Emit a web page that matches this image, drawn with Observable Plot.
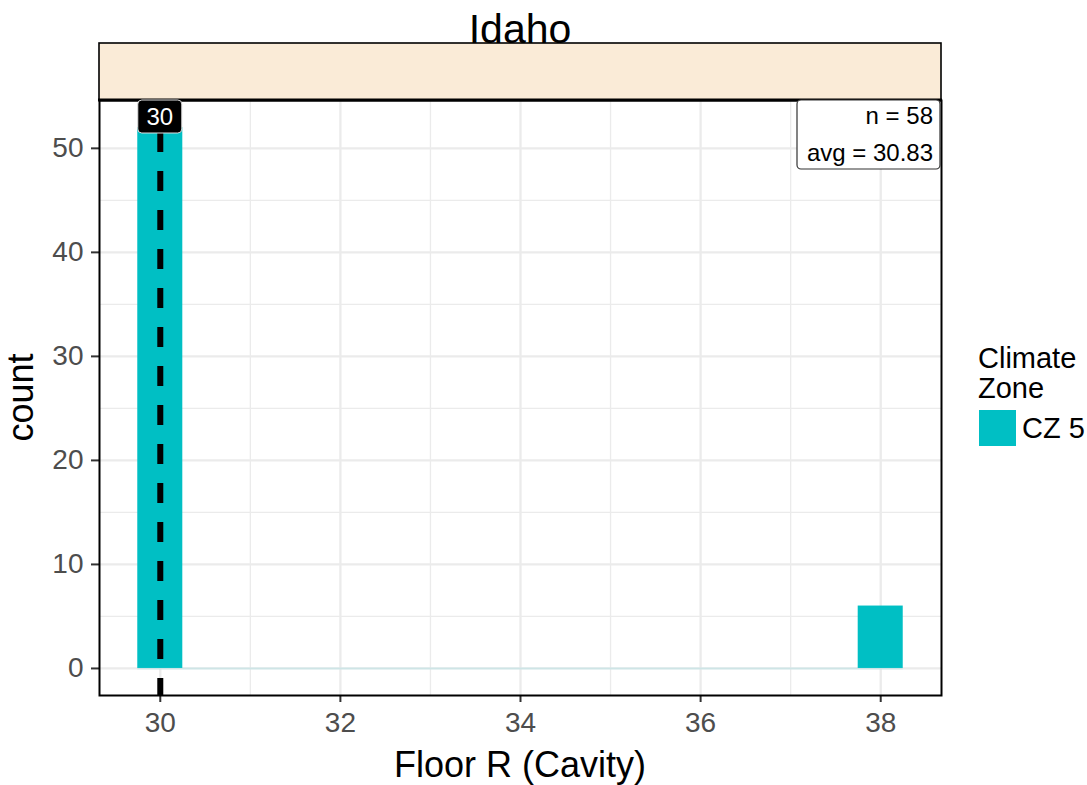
<!DOCTYPE html>
<html>
<head>
<meta charset="utf-8">
<script src="https://cdn.jsdelivr.net/npm/d3@7"></script>
<script src="https://cdn.jsdelivr.net/npm/@observablehq/plot@0.6"></script>
<style>
  html, body { margin: 0; padding: 0; background: white; }
  #chart { width: 1087px; height: 785px; }
</style>
</head>
<body>
<div id="chart"></div>
<script>
// ---- data ----
const stateName = "Idaho";
const binCenters = [30, 38];
const binCounts = [52, 6];
const binWidth = 0.5;
const xTicks = [30, 32, 34, 36, 38];
const xMinorTicks = [31, 33, 35, 37];
const yTicks = [0, 10, 20, 30, 40, 50];
const yMinorTicks = [5, 15, 25, 35, 45];
const zoneNames = ["CZ 5"];
const zoneColors = ["#00BFC4"];
const legendTitle = ["Climate", "Zone"];
const medianValue = [30];
const statLines = ["n = 58", "avg = 30.83"];
const xLabel = "Floor R (Cavity)";
const yLabel = "count";

const bars = binCenters.map((c, i) => ({ x1: c - binWidth / 2, x2: c + binWidth / 2, count: binCounts[i] }));
const binMin = d3.min(bars, d => d.x1), binMax = d3.max(bars, d => d.x2);
const xPad = (binMax - binMin) * 0.05;
const yPad = d3.max(binCounts) * 0.05;
const xDomain = [binMin - xPad, binMax + xPad];
const yDomain = [-yPad, d3.max(binCounts) + yPad];

const font = "'Liberation Sans', Arial, sans-serif";

const plot = Plot.plot({
  width: 1087, height: 785,
  marginLeft: 99, marginRight: 146, marginTop: 100, marginBottom: 90,
  style: { fontFamily: font, background: "white" },
  x: { domain: xDomain },
  y: { domain: yDomain },
  marks: [
    Plot.gridX(xMinorTicks, { stroke: "#EBEBEB", strokeOpacity: 1, strokeWidth: 1.3 }),
    Plot.gridY(yMinorTicks, { stroke: "#EBEBEB", strokeOpacity: 1, strokeWidth: 1.3 }),
    Plot.gridX(xTicks, { stroke: "#EBEBEB", strokeOpacity: 1, strokeWidth: 2.3 }),
    Plot.gridY(yTicks, { stroke: "#EBEBEB", strokeOpacity: 1, strokeWidth: 2.3 }),
    Plot.ruleY([0], { x1: binMin, x2: binMax, stroke: zoneColors[0], strokeOpacity: 0.12, strokeWidth: 2 }),
    Plot.rectY(bars, { x1: "x1", x2: "x2", y: "count", fill: zoneColors[0] }),
    Plot.ruleX(medianValue, { y1: yDomain[0], y2: yDomain[1], stroke: "black", strokeWidth: 6,
      strokeDasharray: "20,19", strokeDashoffset: 3 }),
    Plot.axisX(xTicks, { tickSize: 7, tickPadding: 10, fontSize: 28, fill: "#4D4D4D", stroke: "#333", strokeWidth: 2, label: null }),
    Plot.axisY(yTicks, { tickSize: 8, tickPadding: 8, fontSize: 28, fill: "#4D4D4D", stroke: "#333", strokeWidth: 2, label: null }),
    Plot.frame({ stroke: "black", strokeWidth: 2 })
  ]
});

document.getElementById("chart").appendChild(plot);

const svg = d3.select(plot);
const sx = plot.scale("x"), sy = plot.scale("y");
const pLeft = sx.apply(xDomain[0]), pRight = sx.apply(xDomain[1]);
const pTop = sy.apply(yDomain[1]), pBottom = sy.apply(yDomain[0]);

// facet strip
svg.append("rect").attr("x", pLeft).attr("y", 43).attr("width", pRight - pLeft).attr("height", pTop - 43)
  .attr("fill", "#FAEBD7").attr("stroke", "black").attr("stroke-width", 1.6);
svg.append("line").attr("x1", pLeft - 1).attr("x2", pRight + 1).attr("y1", pTop).attr("y2", pTop)
  .attr("stroke", "black").attr("stroke-width", 3);

// title
svg.append("text").attr("x", (pLeft + pRight) / 2).attr("y", 43).attr("text-anchor", "middle")
  .attr("font-family", font).attr("font-size", 41).attr("fill", "black").text(stateName);

// median label
medianValue.forEach(m => {
  const cx = sx.apply(m);
  svg.append("rect").attr("x", cx - 22).attr("y", pTop).attr("width", 44).attr("height", 33)
    .attr("rx", 4).attr("fill", "black").attr("stroke", "#ddd").attr("stroke-width", 1);
  svg.append("text").attr("x", cx).attr("y", pTop + 25).attr("text-anchor", "middle")
    .attr("font-family", font).attr("font-size", 24).attr("fill", "white").text(String(m));
});

// stats box
svg.append("rect").attr("x", pRight - 144).attr("y", pTop).attr("width", 143).attr("height", 69)
  .attr("rx", 4).attr("fill", "white").attr("stroke", "#333").attr("stroke-width", 1.2);
statLines.forEach((t, i) => {
  svg.append("text").attr("x", pRight - 8).attr("y", pTop + 24 + i * 37).attr("text-anchor", "end")
    .attr("font-family", font).attr("font-size", 24).attr("fill", "black").text(t);
});

// axis titles
svg.append("text").attr("x", (pLeft + pRight) / 2).attr("y", 777).attr("text-anchor", "middle")
  .attr("font-family", font).attr("font-size", 36).attr("fill", "black").text(xLabel);
svg.append("text").attr("transform", `translate(33, ${(pTop + pBottom) / 2}) rotate(-90)`)
  .attr("text-anchor", "middle").attr("font-family", font).attr("font-size", 36).attr("fill", "black").text(yLabel);

// legend
legendTitle.forEach((t, i) => {
  svg.append("text").attr("x", 978).attr("y", 368 + i * 30).attr("text-anchor", "start").attr("font-family", font)
    .attr("font-size", 29).attr("fill", "black").text(t);
});
zoneNames.forEach((z, i) => {
  svg.append("rect").attr("x", 979).attr("y", 410 + i * 37).attr("width", 37).attr("height", 36).attr("fill", zoneColors[i]);
  svg.append("text").attr("x", 1022).attr("y", 438 + i * 37).attr("text-anchor", "start").attr("font-family", font)
    .attr("font-size", 29).attr("fill", "black").text(z);
});
</script>
</body>
</html>
